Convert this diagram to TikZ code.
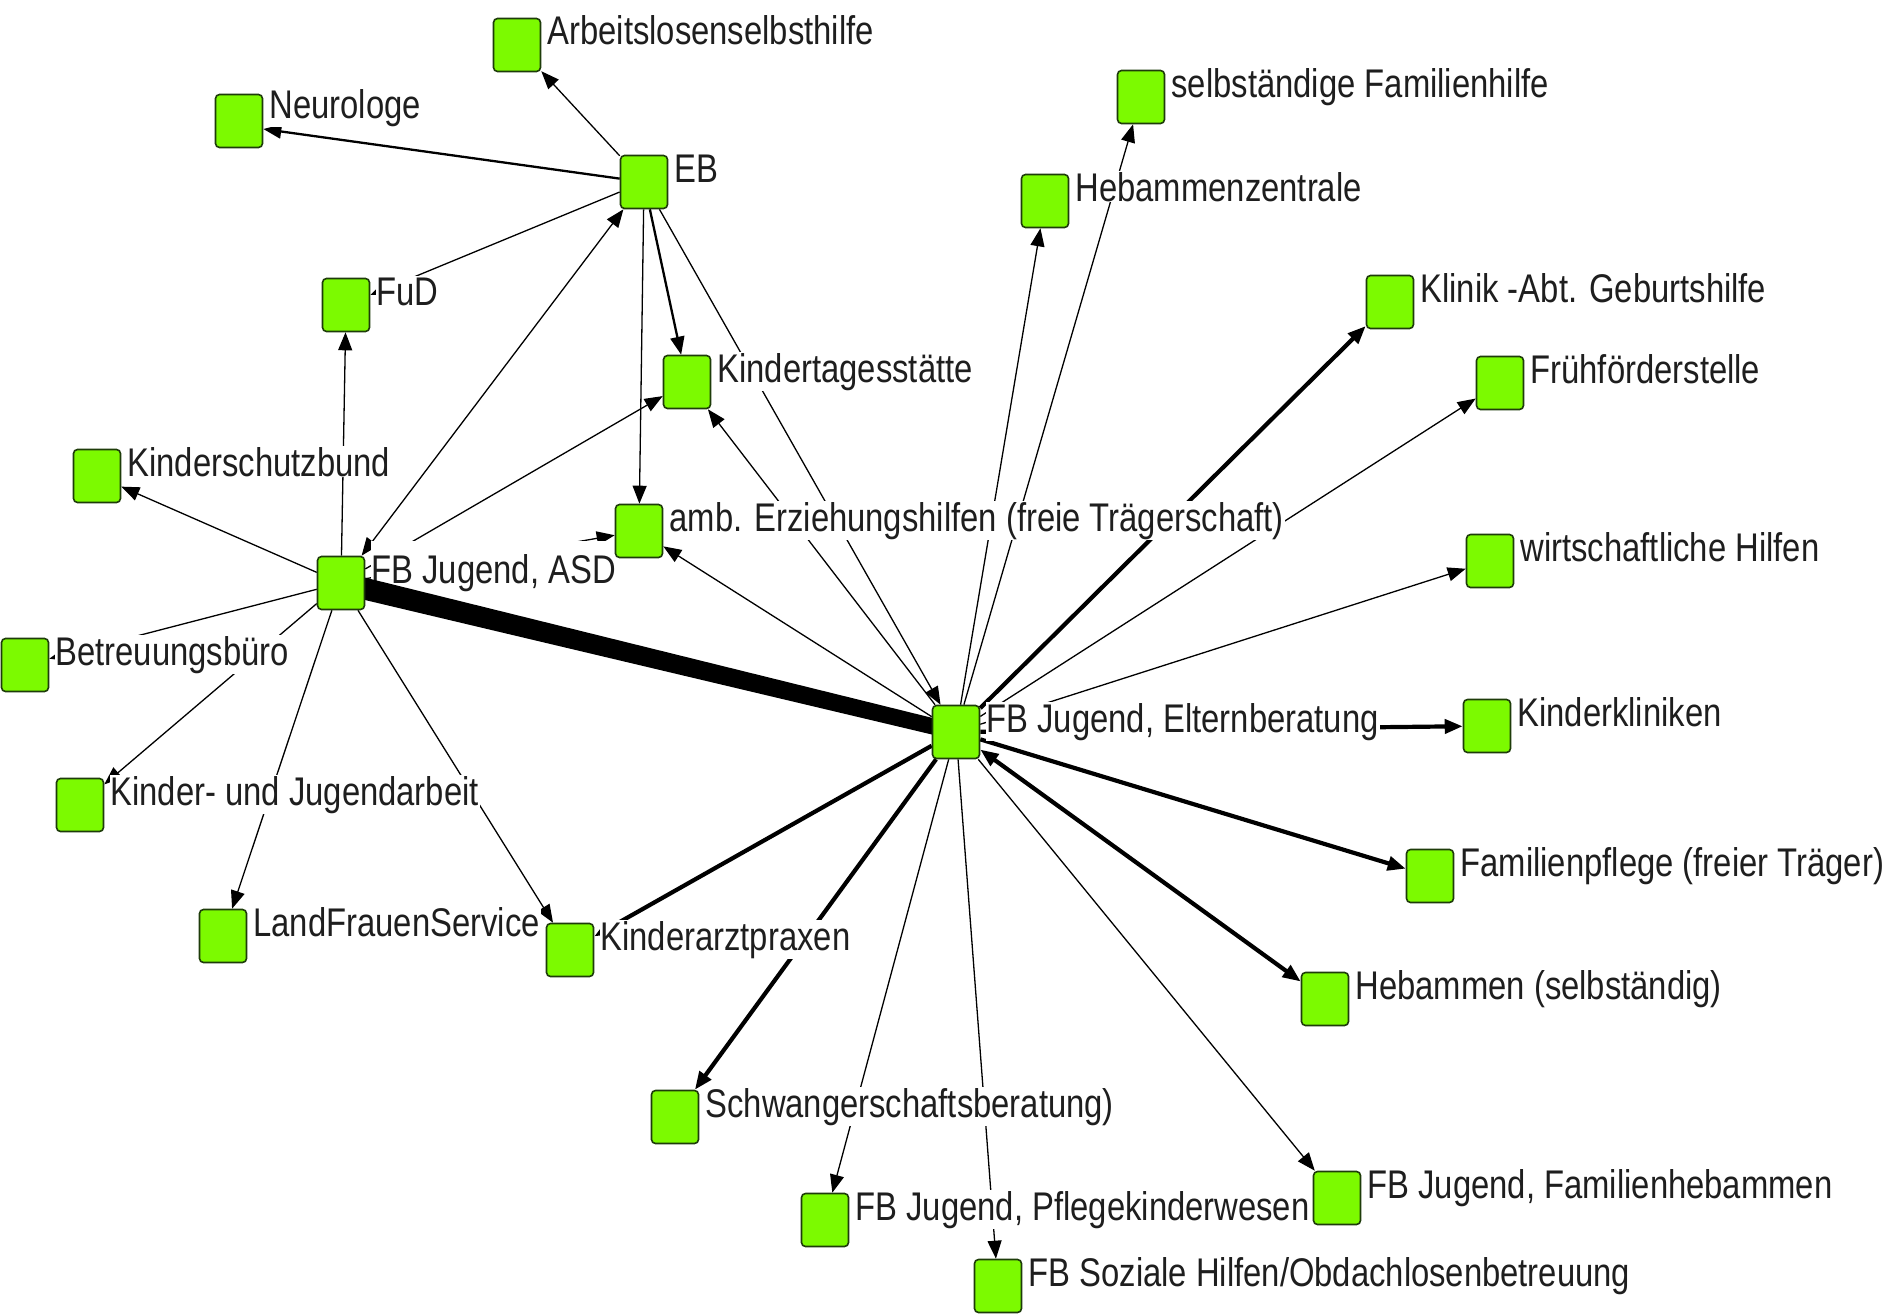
\documentclass[tikz,border=0pt]{standalone}
\usepackage{fontspec}
\setmainfont{Liberation Sans}[FakeStretch=0.82]
\usetikzlibrary{arrows.meta,calc}
\definecolor{nodegreen}{RGB}{124,250,0}
\definecolor{nodeborder}{RGB}{30,60,10}
\definecolor{txt}{RGB}{30,30,30}
\pgfdeclarelayer{edgelayer}
\pgfdeclarelayer{labellayer}
\pgfdeclarelayer{biglayer}
\pgfsetlayers{edgelayer,labellayer,biglayer,main}
\begin{document}
\begin{tikzpicture}[x=1pt,y=-1pt,
  sq/.style={rectangle,rounded corners=4pt,minimum width=47pt,minimum height=53pt,inner sep=0pt,fill=nodegreen,draw=nodeborder,line width=1.6pt},
  lbl/.style={anchor=base west,fill=white,inner sep=1pt,text=txt,font=\fontsize{40}{46}\selectfont},
  ln/.style={line width=1.3pt},
  lnm/.style={line width=2.3pt},
  lnk/.style={line width=4.2pt},
  arrowend/.style={-{Triangle[length=18pt,width=14pt]}},
  arrowboth/.style={{Triangle[length=18pt,width=14pt]}-{Triangle[length=18pt,width=14pt]}}
]
\useasboundingbox (0,0) rectangle (1903,1314);

% squares
\node[sq] (A)   at (517,45)   {};
\node[sq] (N)   at (239,121)  {};
\node[sq] (EB)  at (644,182)  {};
\node[sq] (FuD) at (346,305)  {};
\node[sq] (KT)  at (687,382)  {};
\node[sq] (KS)  at (97,476)   {};
\node[sq] (AE)  at (639,531)  {};
\node[sq] (ASD) at (341,583)  {};
\node[sq] (BB)  at (25,665)   {};
\node[sq] (KJ)  at (80,805)   {};
\node[sq] (LF)  at (223,936)  {};
\node[sq] (KA)  at (570,950)  {};
\node[sq] (EL)  at (956,732)  {};
\node[sq] (SF)  at (1141,97)  {};
\node[sq] (HZ)  at (1045,201) {};
\node[sq] (KL)  at (1390,302) {};
\node[sq] (FF)  at (1500,383) {};
\node[sq] (WH)  at (1490,561) {};
\node[sq] (KK)  at (1487,726) {};
\node[sq] (FP)  at (1430,876) {};
\node[sq] (HS)  at (1325,999) {};
\node[sq] (SB)  at (675,1117) {};
\node[sq] (PK)  at (825,1220) {};
\node[sq] (FH)  at (1337,1198) {};
\node[sq] (SH)  at (998,1286) {};

% labels
\begin{pgfonlayer}{labellayer}
\node[lbl] (Al)   at ([xshift=5pt]A.east)   {Arbeitslosenselbsthilfe};
\node[lbl] (Nl)   at ([xshift=5pt,yshift=3pt]N.east)   {Neurologe};
\node[lbl] (EBl)  at ([xshift=5pt]EB.east)  {EB};
\node[lbl] (FuDl) at ([xshift=5pt]FuD.east) {FuD};
\node[lbl] (KTl)  at ([xshift=5pt]KT.east)  {Kindertagesstätte};
\node[lbl] (KSl)  at ([xshift=5pt]KS.east)  {Kinderschutzbund};
\node[lbl] (AEl)  at ([xshift=5pt]AE.east)  {amb. Erziehungshilfen (freie Trägerschaft)};
\node[lbl,minimum height=63pt] (ASDl) at ([xshift=5pt]ASD.east) {FB Jugend, ASD};
\node[lbl] (BBl)  at ([xshift=5pt]BB.east)  {Betreuungsbüro};
\node[lbl] (KJl)  at ([xshift=5pt]KJ.east)  {Kinder- und Jugendarbeit};
\node[lbl] (LFl)  at ([xshift=5pt]LF.east)  {LandFrauenService};
\node[lbl] (KAl)  at ([xshift=5pt]KA.east)  {Kinderarztpraxen};
\node[lbl] (ELl)  at ([xshift=5pt]EL.east)  {FB Jugend, Elternberatung};
\node[lbl] (SFl)  at ([xshift=5pt]SF.east)  {selbständige Familienhilfe};
\node[lbl] (HZl)  at ([xshift=5pt]HZ.east)  {Hebammenzentrale};
\node[lbl] (KLl)  at ([xshift=5pt]KL.east)  {Klinik -Abt. Geburtshilfe};
\node[lbl] (FFl)  at ([xshift=5pt]FF.east)  {Frühförderstelle};
\node[lbl] (WHl)  at ([xshift=5pt]WH.east)  {wirtschaftliche Hilfen};
\node[lbl] (KKl)  at ([xshift=5pt]KK.east)  {Kinderkliniken};
\node[lbl] (FPl)  at ([xshift=5pt]FP.east)  {Familienpflege (freier Träger)};
\node[lbl] (HSl)  at ([xshift=5pt]HS.east)  {Hebammen (selbständig)};
\node[lbl] (SBl)  at ([xshift=5pt]SB.east)  {Schwangerschaftsberatung)};
\node[lbl] (PKl)  at ([xshift=5pt]PK.east)  {FB Jugend, Pflegekinderwesen};
\node[lbl] (FHl)  at ([xshift=5pt]FH.east)  {FB Jugend, Familienhebammen};
\node[lbl] (SHl)  at ([xshift=5pt]SH.east)  {FB Soziale Hilfen/Obdachlosenbetreuung};
\end{pgfonlayer}

% edges
\begin{pgfonlayer}{edgelayer}
\fill[white] (0,0) rectangle (1903,1314);
\draw[ln,arrowend]  (EB) -- (A);
\draw[lnm,arrowend] (EB) -- ([yshift=-8pt]N.east);
\draw[ln,arrowend]  (EB) -- (FuD);
\draw[lnm,arrowend] (EB) -- (KT);
\draw[ln,arrowend]  (EB) -- (AE);
\draw[ln,arrowend]  (EB) -- (EL);
\draw[ln,arrowboth] (ASD) -- (EB);
\draw[ln,arrowend]  (ASD) -- (FuD);
\draw[ln,arrowend]  (ASD) -- (KT);
\draw[ln,arrowend]  (ASD) -- (AE);
\draw[ln,arrowend]  (ASD) -- (KS);
\draw[ln,arrowend]  (ASD) -- (BB);
\draw[ln,arrowend]  (ASD) -- (KJ);
\draw[ln,arrowend]  (ASD) -- (LF);
\draw[ln,arrowend]  (ASD) -- (KA);
\draw[ln,arrowend]  (EL) -- (KT);
\draw[ln,arrowend]  (EL) -- (AE);
\draw[lnk,arrowend] (EL) -- (KA);
\draw[lnk,arrowend] (EL) -- (SB);
\draw[ln,arrowend]  (EL) -- (PK);
\draw[ln,arrowend]  (EL) -- (SH);
\draw[ln,arrowend]  (EL) -- (FH);
\draw[lnk,arrowboth] (EL) -- (HS);
\draw[lnk,arrowend] (EL) -- (FP);
\draw[lnk,arrowend] (EL) -- (KK);
\draw[ln,arrowend]  (EL) -- (WH);
\draw[ln,arrowend]  (EL) -- (FF);
\draw[lnk,arrowend] (EL) -- (KL);
\draw[ln,arrowend]  (EL) -- (HZ);
\draw[ln,arrowend]  (EL) -- (SF);
\end{pgfonlayer}

% heavy tapered tie between ASD and Elternberatung
\begin{pgfonlayer}{biglayer}
\fill[black] ($(ASD.center)!11pt!90:(EL.center)$) -- ($(EL.center)!8pt!-90:(ASD.center)$)
  -- ($(EL.center)!8pt!90:(ASD.center)$) -- ($(ASD.center)!11pt!-90:(EL.center)$) -- cycle;
\end{pgfonlayer}
\end{tikzpicture}
\end{document}
